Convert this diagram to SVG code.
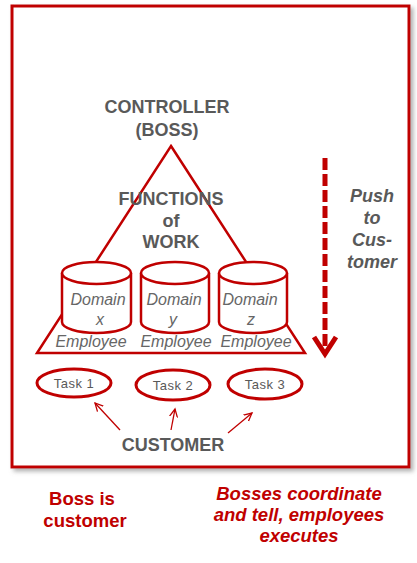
<svg xmlns="http://www.w3.org/2000/svg" width="417" height="563" viewBox="0 0 417 563">
<defs>
<filter id="sh" x="-5%" y="-5%" width="115%" height="115%"><feDropShadow dx="3" dy="3" stdDeviation="2" flood-color="#808080" flood-opacity="0.6"/></filter>
<marker id="ah" markerWidth="10" markerHeight="10" refX="8" refY="5" orient="auto" markerUnits="userSpaceOnUse"><polyline points="0,1 8,5 0,9" fill="none" stroke="#C00000" stroke-width="1.3"/></marker>
</defs>
<style>
.red{stroke:#C00000;fill:#fff}
.hd{font-family:"Liberation Sans",Arial,sans-serif;font-weight:bold;font-size:18px;fill:#595959;text-anchor:middle}
.it{font-family:"Liberation Sans",Arial,sans-serif;font-style:italic;font-size:16px;fill:#666;text-anchor:middle}
.tk{font-family:"Liberation Sans",Arial,sans-serif;font-size:13px;fill:#595959;text-anchor:middle;letter-spacing:0.5px}
.bt{font-family:"Liberation Sans",Arial,sans-serif;font-weight:bold;font-size:18.5px;fill:#C00000;text-anchor:middle}
.conn{stroke:#C00000;stroke-width:1.3;fill:none}
</style>
<rect x="12" y="6" width="397" height="461" fill="#fff" stroke="#C00000" stroke-width="3" filter="url(#sh)"/>
<g id="controller"><text class="hd" x="167" y="113">CONTROLLER</text><text class="hd" x="167" y="136">(BOSS)</text></g>
<g id="triangle"><polygon class="red" points="171,146 305,353 37,353" stroke-width="2.5"/>
<text class="hd" x="171" y="205">FUNCTIONS</text><text class="hd" x="171" y="227">of</text><text class="hd" x="171" y="248">WORK</text></g>
<g id="domain-x"><path class="red" stroke-width="2.5" d="M62,273 V322 A34.5,11 0 0 0 131,322 V273"/><ellipse class="red" stroke-width="2.5" cx="96.5" cy="273" rx="34.5" ry="11"/>
<text class="it" x="98" y="305">Domain</text><text class="it" x="100" y="325">x</text></g>
<g id="domain-y"><path class="red" stroke-width="2.5" d="M141,273 V322 A34,11 0 0 0 209,322 V273"/><ellipse class="red" stroke-width="2.5" cx="175" cy="273" rx="34" ry="11"/>
<text class="it" x="174" y="305">Domain</text><text class="it" x="173" y="325">y</text></g>
<g id="domain-z"><path class="red" stroke-width="2.5" d="M219,273 V322 A34,11 0 0 0 287,322 V273"/><ellipse class="red" stroke-width="2.5" cx="253" cy="273" rx="34" ry="11"/>
<text class="it" x="250" y="305">Domain</text><text class="it" x="251" y="325">z</text></g>
<g id="employees"><text class="it" x="91" y="347">Employee</text><text class="it" x="176" y="347">Employee</text><text class="it" x="256" y="347">Employee</text></g>
<g id="push"><line x1="325" y1="158" x2="325" y2="352" stroke="#C00000" stroke-width="5" stroke-dasharray="12,4"/><polyline points="314,337 325,354 336,337" fill="none" stroke="#C00000" stroke-width="5"/>
<text class="hd" style="font-style:italic" x="372" y="202">Push</text><text class="hd" style="font-style:italic" x="372" y="224">to</text><text class="hd" style="font-style:italic" x="372" y="246">Cus-</text><text class="hd" style="font-style:italic" x="372" y="268">tomer</text></g>
<g id="task1"><ellipse class="red" stroke-width="3" cx="74" cy="383" rx="37" ry="14"/><text class="tk" x="74" y="388">Task 1</text></g>
<g id="task2"><ellipse class="red" stroke-width="3" cx="173" cy="385" rx="37" ry="15"/><text class="tk" x="173" y="390">Task 2</text></g>
<g id="task3"><ellipse class="red" stroke-width="3" cx="265" cy="384" rx="37" ry="15"/><text class="tk" x="265" y="389">Task 3</text></g>
<g id="customer"><text class="hd" x="173" y="451">CUSTOMER</text></g>
<g id="connectors">
<line class="conn" x1="120" y1="430" x2="95" y2="403" marker-end="url(#ah)"/>
<line class="conn" x1="171" y1="430" x2="175" y2="409" marker-end="url(#ah)"/>
<line class="conn" x1="228" y1="433" x2="252" y2="413" marker-end="url(#ah)"/>
</g>
<g id="notes"><text class="bt" x="82" y="505">Boss is</text><text class="bt" x="85" y="527">customer</text>
<text class="bt" style="font-style:italic" x="299" y="500">Bosses coordinate</text><text class="bt" style="font-style:italic" x="299" y="521">and tell, employees</text><text class="bt" style="font-style:italic" x="299" y="542">executes</text></g>
</svg>
